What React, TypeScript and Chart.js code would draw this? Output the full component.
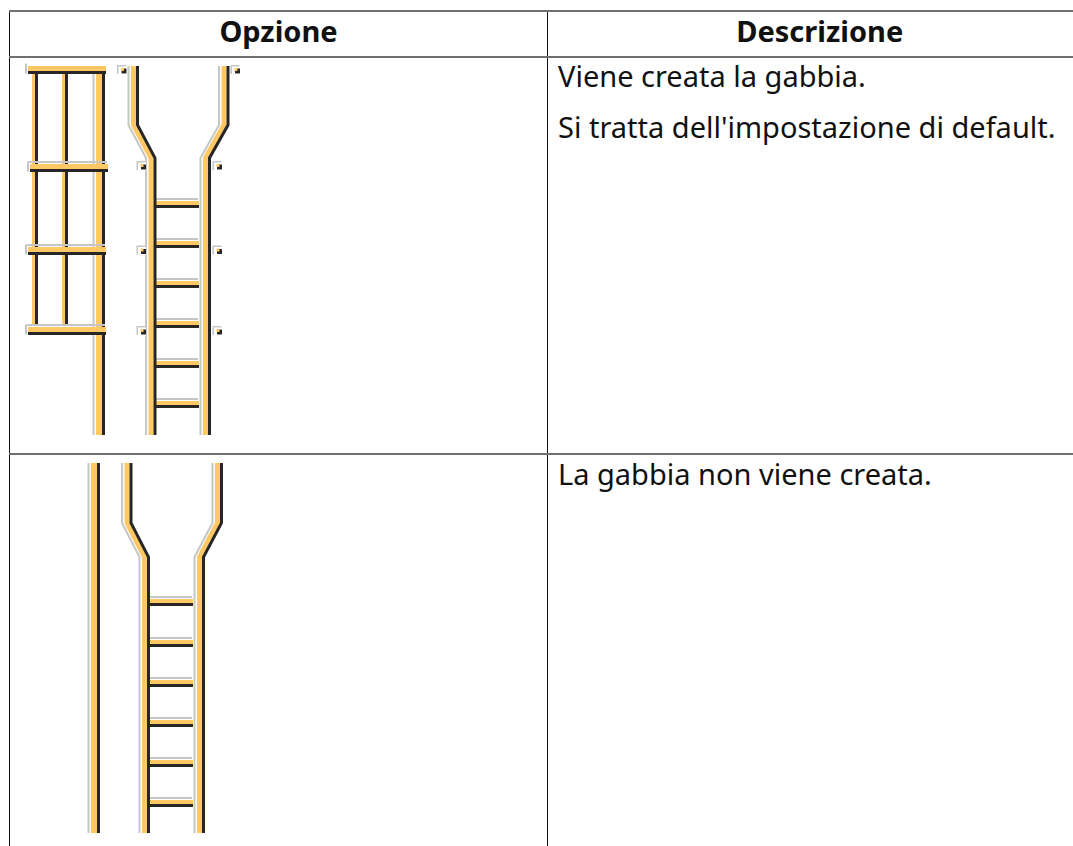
import React, { useEffect, useRef } from "react";
import { Chart, registerables } from "chart.js";

Chart.register(...registerables);

type Pt = { x: number; y: number };

const headers = ["Opzione", "Descrizione"];
const firstRowTexts = ["Viene creata la gabbia.", "Si tratta dell'impostazione di default."];
const secondRowTexts = ["La gabbia non viene creata."];

const colors = { halo: "#c6c6c6", rail: "#ffc864", shade: "#262626", tabInner: "#ffffff" };

// Upper drawing: cage seen from the front
const cagePostThinA: Pt[] = [{ x: 33.5, y: 70 }, { x: 33.5, y: 324 }];
const cagePostThinB: Pt[] = [{ x: 63.5, y: 70 }, { x: 63.5, y: 324 }];
const cagePostWide: Pt[] = [{ x: 99, y: 70 }, { x: 99, y: 435 }];
const cageBarsY = [68.5, 166.5, 249.5, 329.5];
const cageBarsStart = [28, 30, 28, 28];
const cageBarsEnd = [106, 108, 106, 106];
const cageBarsHalo = [false, true, true, true];

// Upper drawing: ladder
const upperLeftRail: Pt[] = [{ x: 133.5, y: 66 }, { x: 133.5, y: 125 }, { x: 151, y: 158 }, { x: 151, y: 435 }];
const upperRightRail: Pt[] = [{ x: 224, y: 66 }, { x: 224, y: 125 }, { x: 205.5, y: 158 }, { x: 205.5, y: 435 }];
const upperRungsY = [203, 243, 283, 323, 363, 403];
const upperRungX = [155, 199];
const tabPoints: Pt[] = [
  { x: 121.5, y: 69.5 }, { x: 235, y: 69.5 },
  { x: 141, y: 165.5 }, { x: 217, y: 165.5 },
  { x: 141, y: 250 }, { x: 217, y: 250 },
  { x: 141, y: 330.5 }, { x: 217, y: 330.5 },
];

// Lower drawing: no cage
const lowerPost: Pt[] = [{ x: 94, y: 463 }, { x: 94, y: 833 }];
const lowerLeftRail: Pt[] = [{ x: 127, y: 463 }, { x: 127, y: 523 }, { x: 144.5, y: 557 }, { x: 144.5, y: 833 }];
const lowerRightRail: Pt[] = [{ x: 217.5, y: 463 }, { x: 217.5, y: 523 }, { x: 199.5, y: 557 }, { x: 199.5, y: 833 }];
const lowerRungsY = [601, 642, 682, 722, 762, 802];
const lowerRungX = [150, 193];

function shift(points: Pt[], dx: number, dy: number): Pt[] {
  return points.map((p) => ({ x: p.x + dx, y: p.y + dy }));
}

function line(data: Pt[], color: string, width: number) {
  return {
    type: "scatter" as const,
    data,
    showLine: true,
    borderColor: color,
    backgroundColor: color,
    borderWidth: width,
    pointRadius: 0,
    tension: 0,
    borderCapStyle: "butt" as const,
    borderJoinStyle: "miter" as const,
    clip: false,
  };
}

function dots(data: Pt[], color: string, radius: number) {
  return {
    type: "scatter" as const,
    data,
    showLine: false,
    pointStyle: "rect" as const,
    pointRadius: radius,
    pointBorderWidth: 0,
    borderColor: color,
    pointBackgroundColor: color,
    backgroundColor: color,
  };
}

function upright(points: Pt[], width: number, halo: boolean) {
  const sets = [];
  if (halo) sets.push(line(shift(points, -width / 2 - 2.5, 0), colors.halo, 2));
  sets.push(line(points, colors.rail, width));
  sets.push(line(shift(points, width / 2 + 1.5, 0), colors.shade, 3));
  return sets;
}

function bar(y: number, x0: number, x1: number, width: number, halo = true) {
  const points = [{ x: x0, y }, { x: x1, y }];
  const sets = [];
  if (halo) sets.push(line(shift(points, -1, -width / 2 - 2), colors.halo, 2));
  sets.push(line(points, colors.rail, width));
  sets.push(line(shift(points, 0, width / 2 + 1.5), colors.shade, 3));
  return sets;
}

const cageTicks = cageBarsY.map((y, i) =>
  line([{ x: cageBarsStart[i] - 2, y: y - 5 }, { x: cageBarsStart[i] - 2, y: y + 5 }], colors.halo, 2)
);

const paintOrder = [
  ...upperRungsY.flatMap((y) => bar(y, upperRungX[0], upperRungX[1], 4)),
  ...lowerRungsY.flatMap((y) => bar(y, lowerRungX[0], lowerRungX[1], 4)),
  ...upright(cagePostThinA, 3, false),
  ...upright(cagePostThinB, 3, false),
  ...upright(cagePostWide, 6, true),
  ...cageTicks,
  ...cageBarsY.flatMap((y, i) => bar(y, cageBarsStart[i], cageBarsEnd[i], 5, cageBarsHalo[i])),
  ...upright(upperLeftRail, 5, true),
  ...upright(upperRightRail, 5, true),
  dots(tabPoints, colors.halo, 6.4),
  dots(shift(tabPoints, 1, 1), colors.tabInner, 5.7),
  dots(shift(tabPoints, 2.5, 1.5), colors.shade, 3.5),
  dots(shift(tabPoints, 1, 0), colors.rail, 2.1),
  ...upright(lowerPost, 6, true),
  ...upright(lowerLeftRail, 5, true),
  ...upright(lowerRightRail, 5, true),
];

const hLine = "2px solid #707070";
const vLine = "1px solid #111";

export default function App() {
  const ref = useRef<HTMLCanvasElement>(null);
  useEffect(() => {
    if (!ref.current) return;
    const chart = new Chart(ref.current, {
      type: "scatter",
      data: { datasets: [...paintOrder].reverse() as any },
      options: {
        responsive: false,
        animation: false,
        layout: { padding: 0, autoPadding: false },
        plugins: { legend: { display: false }, tooltip: { enabled: false }, title: { display: false } },
        scales: {
          x: { type: "linear", min: 0, max: 1073, display: false },
          y: { type: "linear", min: 0, max: 846, reverse: true, display: false },
        },
      },
    });
    return () => chart.destroy();
  }, []);

  const cell: React.CSSProperties = { margin: 0, padding: 0 };
  return (
    <div style={{ position: "fixed", inset: 0, width: 1073, height: 846, overflow: "hidden", background: "#fff", fontFamily: "'Noto Sans', sans-serif", color: "#111" }}>
      <table style={{ position: "absolute", left: 9, top: 10, width: 1100, tableLayout: "fixed", borderCollapse: "collapse", fontSize: 29 }}>
        <colgroup>
          <col style={{ width: 538 }} />
          <col style={{ width: 562 }} />
        </colgroup>
        <thead>
          <tr style={{ height: 46 }}>
            {headers.map((h, i) => (
              <th key={h} style={{ borderTop: hLine, borderBottom: hLine, borderLeft: vLine, padding: "0 0 6px 0", lineHeight: "36px", textAlign: "center", fontWeight: 700, ...(i === 1 ? { paddingRight: 18 } : {}) }}>{h}</th>
            ))}
          </tr>
        </thead>
        <tbody>
          <tr style={{ height: 397 }}>
            <td style={{ borderBottom: hLine, borderLeft: vLine }} />
            <td style={{ borderBottom: hLine, borderLeft: vLine, verticalAlign: "top", padding: "0 0 0 10px" }}>
              {firstRowTexts.map((t, i) => (
                <p key={t} style={{ ...cell, lineHeight: "40px", marginTop: i === 0 ? -2 : 11 }}>{t}</p>
              ))}
            </td>
          </tr>
          <tr style={{ height: 397 }}>
            <td style={{ borderLeft: vLine }} />
            <td style={{ borderLeft: vLine, verticalAlign: "top", padding: "0 0 0 10px" }}>
              {secondRowTexts.map((t) => (
                <p key={t} style={{ ...cell, lineHeight: "40px", marginTop: -1 }}>{t}</p>
              ))}
            </td>
          </tr>
        </tbody>
      </table>
      <canvas ref={ref} width={1073} height={846} style={{ position: "absolute", left: 0, top: 0, width: 1073, height: 846, filter: "blur(0.45px)" }} />
    </div>
  );
}
